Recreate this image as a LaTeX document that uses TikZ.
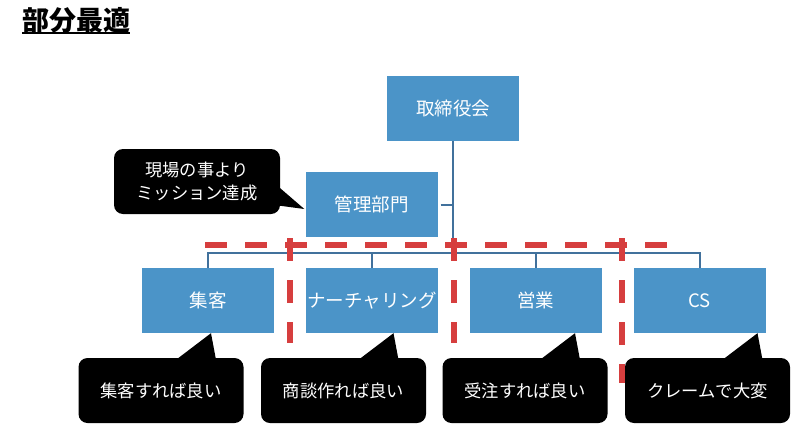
\documentclass[tikz,border=0pt]{standalone}
\usepackage{fontspec}
\setmainfont{Noto Sans CJK JP}
\usetikzlibrary{calc}
\definecolor{boxblue}{RGB}{75,148,200}
\definecolor{linkblue}{RGB}{65,113,156}
\definecolor{dashred}{RGB}{214,62,62}
\begin{document}
\begin{tikzpicture}[x=1pt,y=-1pt,
  orgbox/.style={fill=boxblue, draw=none, text=white, minimum width=132pt, minimum height=65pt, inner sep=0pt, font=\fontsize{18.5}{22}\selectfont},
  callout/.style={fill=black, rounded corners=9pt, text=white, minimum width=165pt, minimum height=65pt, inner sep=0pt, align=center, font=\fontsize{17.3}{23}\selectfont},
  pointer/.style={fill=black},
  link/.style={draw=linkblue, line width=2pt},
  reddash/.style={draw=dashred, line width=5.5pt, dash pattern=on 22pt off 18pt}]
\useasboundingbox (0,0) rectangle (800,447);
\fill[white] (0,0) rectangle (800,447);
% title
\node[anchor=west, inner sep=0pt, font=\bfseries\fontsize{27}{30}\selectfont] (title) at (22,20) {部分最適};
\draw[line width=2pt] (22,33) -- (title.east |- 0,33);
% org boxes
\node[orgbox] (board) at (453,108.5) {取締役会};
\node[orgbox] (mgmt) at (371.5,204.5) {管理部門};
\node[orgbox] (n1) at (208,300.5) {集客};
\node[orgbox] (n2) at (372,300.5) {ナーチャリング};
\node[orgbox] (n3) at (535.5,300.5) {営業};
\node[orgbox] (n4) at (699.5,300.5) {CS};
% connectors
\coordinate (bus) at ($(board.south |- n1.north)+(0,-15)$);
\draw[link] (board.south) -- (bus);
\draw[link] ($(mgmt.east)+(3,0)$) -- (mgmt.east -| board.south);
\draw[link] (n1.north) -- ++(0,-15) -| (n4.north);
\draw[link] (n2.north) -- ++(0,-15);
\draw[link] (n3.north) -- ++(0,-15);
% callouts
\node[callout, minimum width=166pt] (c0) at (197,181.5) {現場の事より\\ミッション達成};
\fill[pointer] ($(c0.east)+(-2,5)$) -- ($(mgmt.west)+(-1,4.5)$) -- ($(c0.east)+(-2,24)$) -- cycle;
\node[callout] (c1) at (161,390.5) {集客すれば良い};
\node[callout] (c2) at (343.5,390.5) {商談作れば良い};
\node[callout] (c3) at (525,390.5) {受注すれば良い};
\node[callout] (c4) at (707.5,390.5) {クレームで大変};
\coordinate (t1) at ($(n1.south)+(3,0)$);
\coordinate (t2) at ($(n2.south)+(21.5,0)$);
\coordinate (t3) at ($(n3.south)+(39.5,0)$);
\coordinate (t4) at ($(n4.south)+(58,0)$);
\fill[pointer] ($(c1.north)+(15,2)$) -- (t1) -- ($(c1.north)+(55,2)$) -- cycle;
\fill[pointer] ($(c2.north)+(15,2)$) -- (t2) -- ($(c2.north)+(55,2)$) -- cycle;
\fill[pointer] ($(c3.north)+(15,2)$) -- (t3) -- ($(c3.north)+(55,2)$) -- cycle;
\fill[pointer] ($(c4.north)+(15,2)$) -- (t4) -- ($(c4.north)+(55,2)$) -- cycle;
% red dashed boundaries
\draw[reddash] (205,245) -- (682,245);
\draw[reddash, dash pattern=on 23pt off 19pt] (290,238) -- (290,343);
\draw[reddash, dash pattern=on 23pt off 19pt] (454,238) -- (454,343);
\draw[reddash, dash pattern=on 23pt off 19pt] (622,238) -- (622,383);
\end{tikzpicture}
\end{document}
